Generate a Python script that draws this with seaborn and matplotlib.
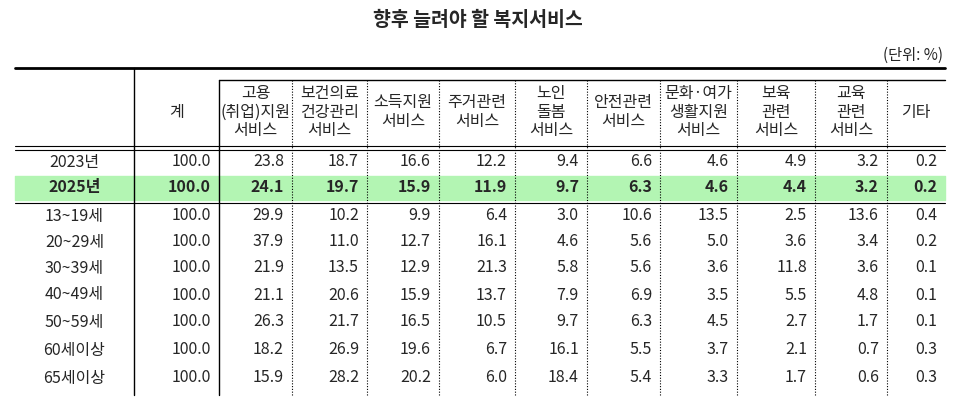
import matplotlib
matplotlib.use("Agg")
import matplotlib.pyplot as plt
import seaborn as sns

sns.set_theme(style="white")
plt.rcParams['font.family'] = ['Noto Sans CJK KR', 'DejaVu Sans']

title = "향후 늘려야 할 복지서비스"
unit = "(단위: %)"
headers = ["계", "고용\n(취업)지원\n서비스", "보건의료\n건강관리\n서비스", "소득지원\n서비스",
           "주거관련\n서비스", "노인\n돌봄\n서비스", "안전관련\n서비스", "문화·여가\n생활지원\n서비스",
           "보육\n관련\n서비스", "교육\n관련\n서비스", "기타"]
rows = ["2023년", "2025년", "13~19세", "20~29세", "30~39세", "40~49세", "50~59세", "60세이상", "65세이상"]
values = [
    [100.0, 23.8, 18.7, 16.6, 12.2, 9.4, 6.6, 4.6, 4.9, 3.2, 0.2],
    [100.0, 24.1, 19.7, 15.9, 11.9, 9.7, 6.3, 4.6, 4.4, 3.2, 0.2],
    [100.0, 29.9, 10.2, 9.9, 6.4, 3.0, 10.6, 13.5, 2.5, 13.6, 0.4],
    [100.0, 37.9, 11.0, 12.7, 16.1, 4.6, 5.6, 5.0, 3.6, 3.4, 0.2],
    [100.0, 21.9, 13.5, 12.9, 21.3, 5.8, 5.6, 3.6, 11.8, 3.6, 0.1],
    [100.0, 21.1, 20.6, 15.9, 13.7, 7.9, 6.9, 3.5, 5.5, 4.8, 0.1],
    [100.0, 26.3, 21.7, 16.5, 10.5, 9.7, 6.3, 4.5, 2.7, 1.7, 0.1],
    [100.0, 18.2, 26.9, 19.6, 6.7, 16.1, 5.5, 3.7, 2.1, 0.7, 0.3],
    [100.0, 15.9, 28.2, 20.2, 6.0, 18.4, 5.4, 3.3, 1.7, 0.6, 0.3],
]
highlight = 1

# layout in pixels
xs = [15, 134, 219, 292, 367, 439, 515, 587, 660, 737, 815, 887, 945]
row_y = [162, 187, 216, 242, 268, 295, 322, 350, 378]
top, head_top, dbl, bottom = 68, 80, 146, 395

fig = plt.figure(figsize=(9.56, 4.05), dpi=100)
ax = fig.add_axes([0, 0, 1, 1])
ax.set_xlim(0, 956)
ax.set_ylim(405, 0)
ax.axis("off")

ax.text(478, 20, title, ha="center", va="center", fontsize=14, fontweight="bold")
ax.text(943, 55, unit, ha="right", va="center", fontsize=11)

# highlight band
ax.fill_between([xs[0], xs[-1]], 176, 200, color="#b3f5b3", zorder=0)

ax.plot([xs[0], xs[-1]], [top, top], color="black", lw=2)
ax.plot([xs[2], xs[-1]], [head_top, head_top], color="black", lw=1)
ax.plot([xs[0], xs[-1]], [dbl, dbl], color="black", lw=0.8)
ax.plot([xs[0], xs[-1]], [dbl + 3.5, dbl + 3.5], color="black", lw=0.8)
ax.plot([xs[0], xs[-1]], [203, 203], color="black", lw=0.8)
ax.plot([xs[1], xs[1]], [top, bottom], color="black", lw=1)
ax.plot([xs[2], xs[2]], [head_top, bottom], color="black", lw=1)
for x in xs[3:-1]:
    ax.plot([x, x], [head_top, bottom], color="black", lw=0.8, ls=(0, (1, 1.5)))

for i, h in enumerate(headers):
    cx = (xs[i + 1] + xs[i + 2]) / 2
    ax.text(cx, 112, h, ha="center", va="center", fontsize=11.5, linespacing=1.1)

for r, (name, vals) in enumerate(zip(rows, values)):
    w = "bold" if r == highlight else "normal"
    ax.text((xs[0] + xs[1]) / 2, row_y[r], name, ha="center", va="center", fontsize=11.5, fontweight=w)
    for c, v in enumerate(vals):
        ax.text(xs[c + 2] - 8, row_y[r], f"{v:.1f}", ha="right", va="center", fontsize=11.5, fontweight=w)

fig.savefig("out.png", dpi=100)
